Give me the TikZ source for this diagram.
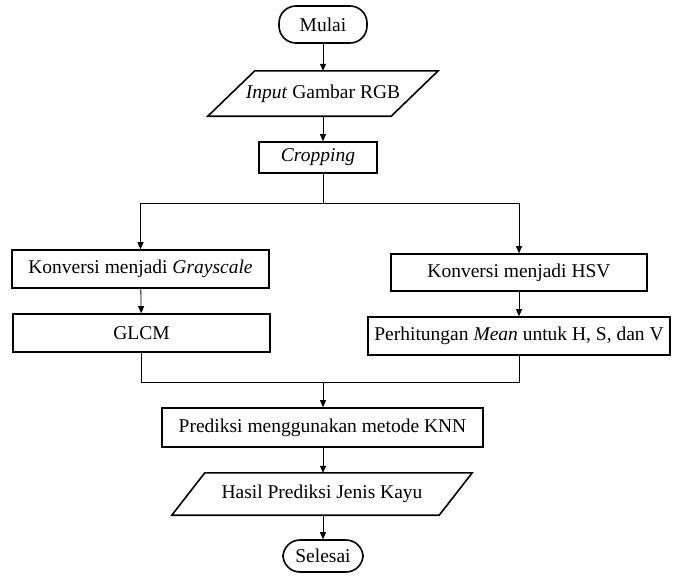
\documentclass[tikz,border=0pt]{standalone}
\usepackage{fontspec}
\setmainfont{Liberation Serif}
\usetikzlibrary{arrows.meta}
\begin{document}
\begin{tikzpicture}[x=1pt,y=-1pt,
  txt/.style={font=\fontsize{19.5}{23}\selectfont, inner sep=0pt},
  box/.style={txt, draw, line width=1.6pt},
  term/.style={box, rounded corners=17pt},
  slant/.style={txt},
  outline/.style={line width=1.6pt},
  link/.style={line width=0.8pt},
  flow/.style={link, -{Triangle[length=7pt,width=6pt]}}]
\useasboundingbox[fill=white] (0,0) rectangle (676,578);

% process steps
\node[term, minimum width=88pt, minimum height=37pt] (mulai) at (323,24.5) {Mulai};
\node[slant, minimum width=183pt, minimum height=45pt] (input) at (323,93.5) {\textit{Input} Gambar RGB};
\node[box, minimum width=118pt, minimum height=31pt] (crop) at (318,157.5) {\textit{Cropping}};
\node[box, minimum width=257pt, minimum height=38pt] (gray) at (140.5,269) {Konversi menjadi \textit{Grayscale}};
\node[box, minimum width=257pt, minimum height=38pt] (glcm) at (141.5,333) {GLCM};
\node[box, minimum width=256pt, minimum height=37pt] (hsv) at (519,272.5) {Konversi menjadi HSV};
\node[box, minimum width=302pt, minimum height=38pt] (mean) at (519,336) {Perhitungan \textit{Mean} untuk H, S, dan V};
\node[box, minimum width=321pt, minimum height=39pt] (knn) at (322.5,427.5) {Prediksi menggunakan metode KNN};
\node[slant, minimum width=267pt, minimum height=42pt] (hasil) at (322,494) {Hasil Prediksi Jenis Kayu};
\node[term, minimum width=80pt, minimum height=32pt] (selesai) at (323,556) {Selesai};

% parallelogram outlines for the input/output steps
\draw[outline] ([xshift=23.5pt]input.north west) -- ([xshift=23.5pt]input.north east)
  -- ([xshift=-23.5pt]input.south east) -- ([xshift=-23.5pt]input.south west) -- cycle;
\draw[outline] ([xshift=16.5pt]hasil.north west) -- ([xshift=16.5pt]hasil.north east)
  -- ([xshift=-16.5pt]hasil.south east) -- ([xshift=-16.5pt]hasil.south west) -- cycle;

% branch and join points
\coordinate (split) at (323,203);
\coordinate (join) at (323,382);

% connectors
\draw[flow] (mulai) -- (input);
\draw[flow] (input.south) -- (crop.north -| input.south);
\draw[link] (crop.south -| split) -- (split);
\draw[flow] (split) -| (gray.north);
\draw[flow] (split) -| (hsv.north);
\draw[flow] (gray) -- (glcm);
\draw[flow] (hsv) -- (mean);
\draw[link] (glcm.south) |- (join);
\draw[link] (mean.south) |- (join);
\draw[flow] (join) -- (knn.north -| join);
\draw[flow] (knn.south -| join) -- (hasil.north -| join);
\draw[flow] (hasil.south -| join) -- (selesai);
\end{tikzpicture}
\end{document}
